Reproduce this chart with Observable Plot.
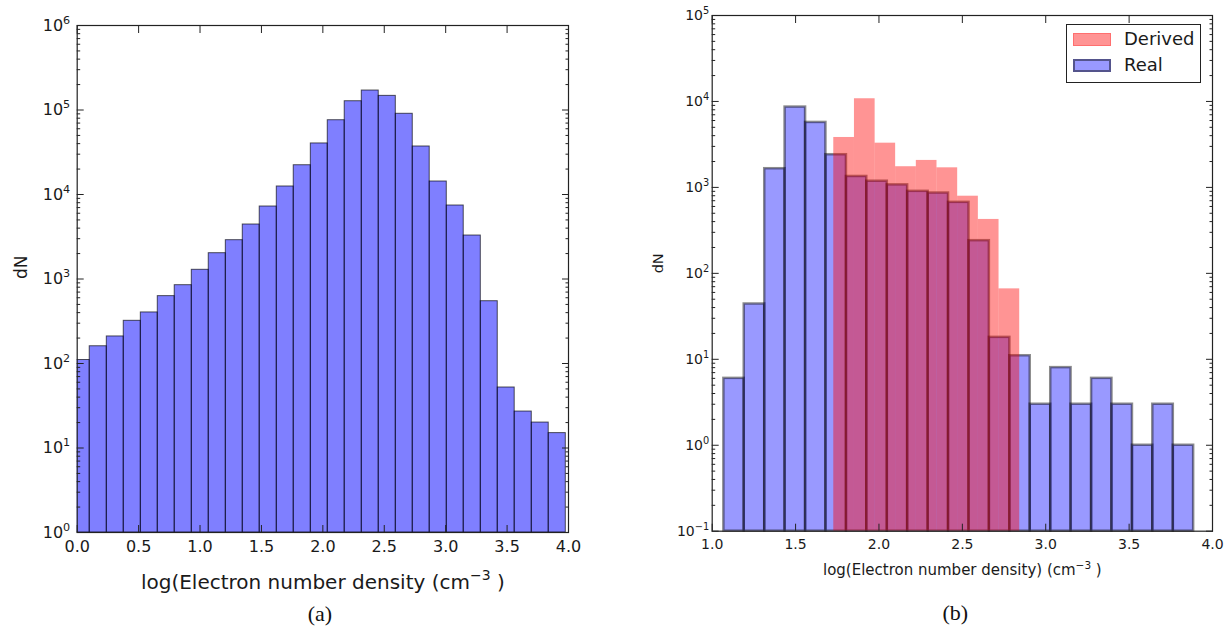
<!DOCTYPE html>
<html>
<head>
<meta charset="utf-8">
<script src="https://cdn.jsdelivr.net/npm/d3@7"></script>
<script src="https://cdn.jsdelivr.net/npm/@observablehq/plot@0.6"></script>
<style>
  body { margin: 0; background: #fff; }
  #wrap { position: relative; width: 1225px; height: 631px; overflow: hidden; font-family: "DejaVu Sans", sans-serif; }
  .panel { position: absolute; top: 0; }
  #legend { position: absolute; left: 1066px; top: 24px; width: 133px; height: 57px; border: 1.5px solid #222; background: #fff; font-family: "DejaVu Sans", sans-serif; font-size: 18px; color: #1a1a1a; }
  .lg-row { position: absolute; left: 6px; height: 14px; }
  .sw { position: absolute; left: 0; top: 0; width: 38px; height: 13px; box-sizing: border-box; }
  .lg-label { position: absolute; left: 51px; top: -5px; white-space: nowrap; }
</style>
</head>
<body>
<div id="wrap"></div>
<script>
// ---------------- data ----------------
// Panel (a): histogram bin edges and counts
const leftBinEdges = [-0.036, 0.102, 0.241, 0.379, 0.518, 0.656, 0.794, 0.933, 1.071, 1.210,
  1.348, 1.486, 1.625, 1.763, 1.902, 2.040, 2.178, 2.317, 2.455, 2.594,
  2.732, 2.870, 3.009, 3.147, 3.286, 3.424, 3.562, 3.701, 3.839, 3.978];
const leftCounts = [110, 160, 209, 320, 402, 627, 845, 1285, 2020, 2880,
  4415, 7210, 12440, 22200, 40200, 75700, 127000, 170000, 147000, 90200,
  37000, 14250, 7410, 3270, 546, 52, 27, 20, 15];

// Panel (b): "Real" histogram
const realBinEdges = [1.070, 1.192, 1.315, 1.437, 1.560, 1.682, 1.805, 1.927, 2.050, 2.172,
  2.295, 2.417, 2.540, 2.662, 2.785, 2.907, 3.030, 3.152, 3.275, 3.397,
  3.520, 3.642, 3.765, 3.887];
const realCounts = [6, 44, 1650, 8600, 5700, 2400, 1340, 1180, 1070, 900,
  860, 670, 240, 18, 11, 3, 8, 3, 6, 3, 1, 3, 1];

// Panel (b): "Derived" histogram
const derivedBinEdges = [1.729, 1.853, 1.977, 2.100, 2.224, 2.348, 2.472, 2.596, 2.720, 2.844];
const derivedCounts = [3810, 10750, 3270, 1740, 2060, 1690, 790, 424, 66];

const seriesNames = ["Derived", "Real"];

// ticks and labels
const leftXTicks = [0.0, 0.5, 1.0, 1.5, 2.0, 2.5, 3.0, 3.5, 4.0];
const rightXTicks = [1.0, 1.5, 2.0, 2.5, 3.0, 3.5, 4.0];
const leftYTicks = [1, 10, 100, 1000, 10000, 100000, 1000000];
const rightYTicks = [0.1, 1, 10, 100, 1000, 10000, 100000];
const leftXDomain = [0, 4];
const rightXDomain = [1, 4];
const xLabelA = "log(Electron number density (cm^{−3} )";
const xLabelB = "log(Electron number density) (cm^{−3} )";
const yLabel = "dN";
const captions = ["(a)", "(b)"];

// ---------------- helpers ----------------
const minorsOf = majors => majors.slice(0, -1).flatMap(m => [2, 3, 4, 5, 6, 7, 8, 9].map(k => k * m));
const powFmt = d => {
  const e = Math.round(Math.log10(d));
  return "10^{" + (e < 0 ? "−" + (-e) : String(e)) + "}";
};
const toBins = (edges, counts, base) => counts.map((n, i) => ({x1: edges[i], x2: edges[i + 1], n, base}));

function frameAxes(xTicks, yMajor, tickFs, yPad, xPad) {
  const yMinor = minorsOf(yMajor);
  const common = {label: null, stroke: "#222"};
  return [
    // inward tick marks on all four sides
    Plot.axisX({...common, anchor: "bottom", ticks: xTicks, tickSize: -7, tickFormat: () => ""}),
    Plot.axisX({...common, anchor: "top", ticks: xTicks, tickSize: -7, tickFormat: () => ""}),
    Plot.axisY({...common, anchor: "left", ticks: yMajor, tickSize: -7, tickFormat: () => ""}),
    Plot.axisY({...common, anchor: "right", ticks: yMajor, tickSize: -7, tickFormat: () => ""}),
    Plot.axisY({...common, anchor: "left", ticks: yMinor, tickSize: -3.5, tickFormat: () => ""}),
    Plot.axisY({...common, anchor: "right", ticks: yMinor, tickSize: -3.5, tickFormat: () => ""}),
    // tick labels
    Plot.axisX({label: null, anchor: "bottom", ticks: xTicks, tickSize: 0, tickPadding: xPad,
      tickFormat: d => d.toFixed(1), fontSize: tickFs, fill: "#1a1a1a"}),
    Plot.axisY({label: null, anchor: "left", ticks: yMajor, tickSize: 0, tickPadding: yPad,
      tickFormat: powFmt, fontSize: tickFs, fill: "#1a1a1a"}),
    Plot.frame({stroke: "#222", strokeWidth: 1.2})
  ];
}

function supify(svg) {
  const NS = "http://www.w3.org/2000/svg";
  svg.querySelectorAll("text").forEach(t => {
    const s = t.textContent;
    const m = s.match(/^(.*)\^\{([^}]*)\}(.*)$/);
    if (!m) return;
    const fs = parseFloat(getComputedStyle(t).fontSize) || 16;
    while (t.firstChild) t.removeChild(t.firstChild);
    const a = document.createElementNS(NS, "tspan");
    a.textContent = m[1];
    t.appendChild(a);
    const b = document.createElementNS(NS, "tspan");
    b.textContent = m[2];
    b.setAttribute("font-size", (fs * 0.7) + "px");
    b.setAttribute("dy", (-fs * 0.42) + "px");
    t.appendChild(b);
    if (m[3]) {
      const c = document.createElementNS(NS, "tspan");
      c.textContent = m[3];
      c.setAttribute("dy", (fs * 0.42) + "px");
      t.appendChild(c);
    }
  });
}

const wrap = document.getElementById("wrap");

// ---------------- panel (a) ----------------
const leftBins = toBins(leftBinEdges, leftCounts, leftYTicks[0]);
const plotA = Plot.plot({
  width: 600, height: 631,
  marginLeft: 76.7, marginRight: 32, marginTop: 25, marginBottom: 99,
  style: {fontFamily: "DejaVu Sans, sans-serif", fontSize: "16px", color: "#1a1a1a", background: "transparent"},
  x: {domain: leftXDomain},
  y: {type: "log", domain: [leftYTicks[0], leftYTicks[leftYTicks.length - 1]]},
  marks: [
    Plot.rect(leftBins, {x1: "x1", x2: "x2", y1: "base", y2: "n", fill: "#0000ff", fillOpacity: 0.5,
      stroke: "#000", strokeOpacity: 0.65, strokeWidth: 1, clip: true}),
    ...frameAxes(leftXTicks, leftYTicks, 16, 7, 8),
    Plot.text([yLabel], {text: d => d, frameAnchor: "left", dx: -50, rotate: -90, lineAnchor: "bottom", fontSize: 17, fill: "#1a1a1a"}),
    Plot.text([xLabelA], {text: d => d, frameAnchor: "bottom", dy: 56, lineAnchor: "bottom", fontSize: 20, fill: "#1a1a1a"}),
    Plot.text([captions[0]], {text: d => d, frameAnchor: "bottom", dx: -3, dy: 88, lineAnchor: "bottom", fontSize: 22, fontFamily: "Liberation Serif, serif", fill: "#111"})
  ]
});
plotA.classList.add("panel");
plotA.style.left = "0px";
wrap.appendChild(plotA);
supify(plotA);

// ---------------- panel (b) ----------------
const realBins = toBins(realBinEdges, realCounts, rightYTicks[0]);
const derivedBins = toBins(derivedBinEdges, derivedCounts, rightYTicks[0]);
const plotB = Plot.plot({
  width: 605, height: 631,
  marginLeft: 91.7, marginRight: 13, marginTop: 15, marginBottom: 100.3,
  style: {fontFamily: "DejaVu Sans, sans-serif", fontSize: "14px", color: "#1a1a1a", background: "transparent"},
  x: {domain: rightXDomain},
  y: {type: "log", domain: [rightYTicks[0], rightYTicks[rightYTicks.length - 1]]},
  marks: [
    Plot.rect(realBins, {x1: "x1", x2: "x2", y1: "base", y2: "n", fill: "#0000ff", fillOpacity: 0.4,
      stroke: "#000", strokeOpacity: 0.45, strokeWidth: 2.5, title: () => seriesNames[1]}),
    Plot.rect(derivedBins, {x1: "x1", x2: "x2", y1: "base", y2: "n", fill: "#ff0000", fillOpacity: 0.42,
      title: () => seriesNames[0]}),
    ...frameAxes(rightXTicks, rightYTicks, 14, 3, 8),
    Plot.text([yLabel], {text: d => d, frameAnchor: "left", dx: -49, rotate: -90, lineAnchor: "bottom", fontSize: 14.5, fill: "#1a1a1a"}),
    Plot.text([xLabelB], {text: d => d, frameAnchor: "bottom", dy: 44, lineAnchor: "bottom", fontSize: 15, fill: "#1a1a1a"}),
    Plot.text([captions[1]], {text: d => d, frameAnchor: "bottom", dx: -7, dy: 89, lineAnchor: "bottom", fontSize: 22, fontFamily: "Liberation Serif, serif", fill: "#111"})
  ]
});
plotB.classList.add("panel");
plotB.style.left = "620px";
wrap.appendChild(plotB);
supify(plotB);

// ---------------- legend ----------------
const legend = document.createElement("div");
legend.id = "legend";
const swatchStyles = {
  Derived: "background: rgba(255,0,0,0.42); border: 1px solid rgba(255,0,0,0.25);",
  Real: "background: rgba(0,0,255,0.4); border: 2.5px solid rgba(0,0,0,0.45);"
};
seriesNames.forEach((name, i) => {
  const row = document.createElement("div");
  row.className = "lg-row";
  row.style.top = (8 + i * 26) + "px";
  row.innerHTML = `<div class="sw" style="${swatchStyles[name]}"></div><div class="lg-label">${name}</div>`;
  legend.appendChild(row);
});
wrap.appendChild(legend);
</script>
</body>
</html>
